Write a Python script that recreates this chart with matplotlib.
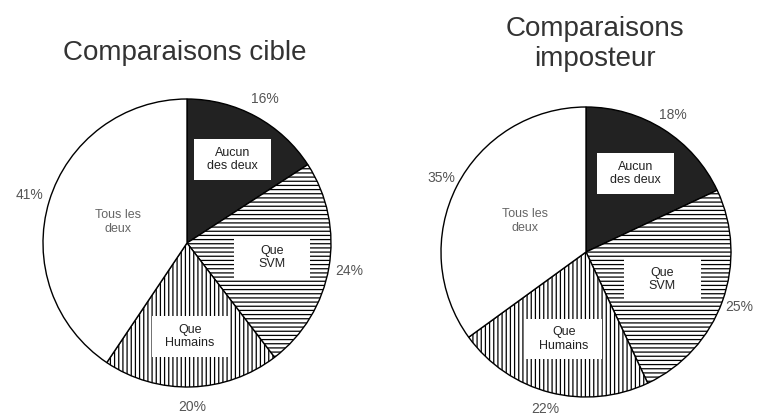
import matplotlib
matplotlib.use('Agg')
import matplotlib.pyplot as plt
from matplotlib.patches import Rectangle
import numpy as np

plt.rcParams['font.family'] = ['Liberation Sans', 'DejaVu Sans']
plt.rcParams['hatch.linewidth'] = 0.9

# Données
categories = ['Aucun\ndes deux', 'Que\nSVM', 'Que\nHumains', 'Tous les\ndeux']
cible = [16, 24, 20, 41]
imposteur = [18, 25, 22, 35]
titres = ['Comparaisons cible', 'Comparaisons\nimposteur']

couleurs = ['#222222', 'white', 'white', 'white']
hachures = [None, '----', '||||', None]
avec_cadre = [True, True, True, False]


def camembert(ax, valeurs, rayons_int, dist_pct=1.14):
    '''
    Pinta un camembert avec hachures et étiquettes
    '''
    pcts = ['%d%%' % v for v in valeurs]
    wedges, textes = ax.pie(valeurs, labels=pcts, startangle=90, counterclock=False,
                            colors=couleurs, labeldistance=dist_pct,
                            wedgeprops=dict(edgecolor='black', linewidth=1.0),
                            textprops=dict(fontsize=10, color='#555555'))
    for w, h in zip(wedges, hachures):
        if h:
            w.set_hatch(h)
    for t in textes:
        t.set_horizontalalignment('center')
        t.set_verticalalignment('center')

    # Étiquettes intérieures
    for w, cat, r, cadre in zip(wedges, categories, rayons_int, avec_cadre):
        ang = np.deg2rad((w.theta1 + w.theta2) / 2)
        x, y = r * np.cos(ang), r * np.sin(ang)
        if cadre:
            ax.add_patch(Rectangle((x - 0.265, y - 0.14), 0.53, 0.28,
                                   facecolor='white', edgecolor='none', zorder=3))
            ax.text(x, y, cat, ha='center', va='center', fontsize=9,
                    color='#222222', zorder=4, linespacing=1.15)
        else:
            ax.text(x, y, cat, ha='center', va='center', fontsize=9,
                    color='#666666', zorder=4, linespacing=1.15)
    ax.set_xlim(-1.25, 1.25)
    ax.set_ylim(-1.25, 1.25)


W, H = 758, 416
fig = plt.figure(figsize=(W / 100, H / 100), dpi=100)
fig.patch.set_facecolor('white')

# Camembert de gauche
cx, cy, taille = 187, 243, 2.5 * 144
ax1 = fig.add_axes([(cx - taille / 2) / W, (H - cy - taille / 2) / H, taille / W, taille / H])
camembert(ax1, cible, [0.66, 0.6, 0.65, 0.5])

# Camembert de droite
cx, cy, taille = 586, 252, 2.5 * 145
ax2 = fig.add_axes([(cx - taille / 2) / W, (H - cy - taille / 2) / H, taille / W, taille / H])
camembert(ax2, imposteur, [0.64, 0.56, 0.62, 0.47], dist_pct=1.12)

fig.text(185 / W, 1 - 53 / H, titres[0], ha='center', va='center', fontsize=20, color='#333333')
fig.text(595 / W, 1 - 44 / H, titres[1], ha='center', va='center', fontsize=20,
         color='#333333', linespacing=1.15)

fig.savefig('out.png', dpi=100)
